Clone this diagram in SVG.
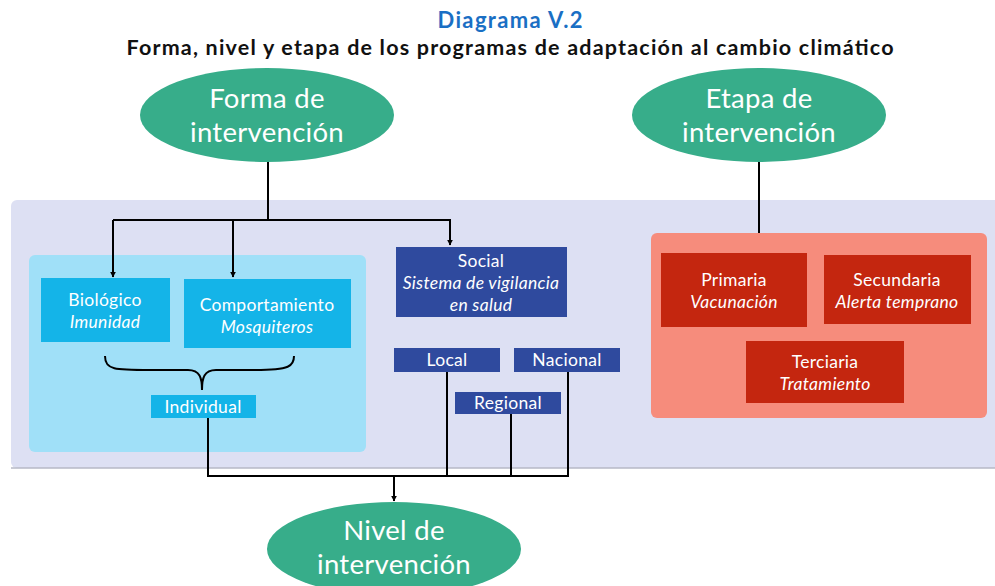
<svg xmlns="http://www.w3.org/2000/svg" width="995" height="586" viewBox="0 0 995 586">
<defs>
<marker id="arr" viewBox="0 0 10 10" refX="9" refY="5" markerWidth="6" markerHeight="6" orient="auto" markerUnits="userSpaceOnUse">
<path d="M0,0 L10,5 L0,10 z" fill="#000"/>
</marker>
<style>
text{font-family:Lato,"Open Sans","Liberation Sans",sans-serif;text-anchor:middle;}
.ell{fill:#37ad8a;}
.et{fill:#fff;font-size:27.5px;letter-spacing:0.3px;}
.bt{fill:#fff;font-size:17.5px;letter-spacing:0.3px;}
.it{font-style:italic;}
.cyan{fill:#14b4e8;}
.blue{fill:#2f4a9e;}
.red{fill:#c4260f;}
.ln{fill:none;stroke:#000;stroke-width:2;}
</style>
</defs>
<rect width="995" height="586" fill="#fff"/>
<text x="510" y="28" textLength="145" style="font-size:22px;font-weight:bold;fill:#1a6fc4">Diagrama V.2</text>
<text x="510" y="55" textLength="767" style="font-size:21.5px;font-weight:bold;fill:#111">Forma, nivel y etapa de los programas de adaptación al cambio climático</text>

<g id="background">
<rect x="11" y="200" width="995" height="268" rx="6" fill="#dde0f3"/>
<line x1="11" y1="468" x2="995" y2="468" stroke="#b6b8c6" stroke-width="1.5"/>
<rect x="29" y="255" width="337" height="197" rx="6" fill="#a0e0f8"/>
<rect x="651" y="233" width="336" height="185" rx="6" fill="#f68c7c"/>
</g>

<g id="connectors">
<path class="ln" d="M268,162 V220"/>
<path class="ln" d="M113,220 H450 V245" marker-end="url(#arr)"/>
<path class="ln" d="M113,220 V277" marker-end="url(#arr)"/>
<path class="ln" d="M233,220 V277" marker-end="url(#arr)"/>
<path class="ln" d="M759,162 V233"/>
<path class="ln" d="M105,356 C105,370 115,370 150,370 H188 C200,370 202,378 202,390 C202,378 204,370 216,370 H255 C290,370 294,366 294,356"/>
<path class="ln" d="M208,418 V476 H568 V372"/>
<path class="ln" d="M447,372 V476"/>
<path class="ln" d="M511,414 V476"/>
<path class="ln" d="M394,476 V501" marker-end="url(#arr)"/>
</g>

<g id="forma">
<ellipse class="ell" cx="267" cy="115" rx="127" ry="47"/>
<text class="et" x="267" y="108">Forma de</text>
<text class="et" x="267" y="142">intervención</text>
</g>
<g id="etapa">
<ellipse class="ell" cx="759" cy="115" rx="127" ry="47"/>
<text class="et" x="759" y="108">Etapa de</text>
<text class="et" x="759" y="142">intervención</text>
</g>
<g id="nivel">
<ellipse class="ell" cx="394" cy="549" rx="127" ry="47"/>
<text class="et" x="394" y="540">Nivel de</text>
<text class="et" x="394" y="574">intervención</text>
</g>

<g id="biologico">
<rect class="cyan" x="41" y="278" width="129" height="64"/>
<text class="bt" x="105" y="306">Biológico</text>
<text class="bt it" x="105" y="328">Imunidad</text>
</g>
<g id="comportamiento">
<rect class="cyan" x="184" y="279" width="167" height="69"/>
<text class="bt" x="267" y="311">Comportamiento</text>
<text class="bt it" x="267" y="333">Mosquiteros</text>
</g>
<g id="individual">
<rect class="cyan" x="151" y="395" width="105" height="23"/>
<text class="bt" x="203" y="413">Individual</text>
</g>

<g id="social">
<rect class="blue" x="396" y="247" width="171" height="70"/>
<text class="bt" x="481" y="267">Social</text>
<text class="bt it" x="481" y="289">Sistema de vigilancia</text>
<text class="bt it" x="481" y="311">en salud</text>
</g>
<g id="local">
<rect class="blue" x="394" y="348" width="106" height="24"/>
<text class="bt" x="447" y="366">Local</text>
</g>
<g id="nacional">
<rect class="blue" x="514" y="348" width="106" height="24"/>
<text class="bt" x="567" y="366">Nacional</text>
</g>
<g id="regional">
<rect class="blue" x="455" y="392" width="106" height="22"/>
<text class="bt" x="508" y="409">Regional</text>
</g>

<g id="primaria">
<rect class="red" x="661" y="253" width="146" height="74"/>
<text class="bt" x="734" y="286">Primaria</text>
<text class="bt it" x="734" y="308">Vacunación</text>
</g>
<g id="secundaria">
<rect class="red" x="824" y="255" width="147" height="69"/>
<text class="bt" x="897" y="286">Secundaria</text>
<text class="bt it" x="897" y="308">Alerta temprano</text>
</g>
<g id="terciaria">
<rect class="red" x="746" y="341" width="158" height="62"/>
<text class="bt" x="825" y="368">Terciaria</text>
<text class="bt it" x="825" y="390">Tratamiento</text>
</g>
</svg>
